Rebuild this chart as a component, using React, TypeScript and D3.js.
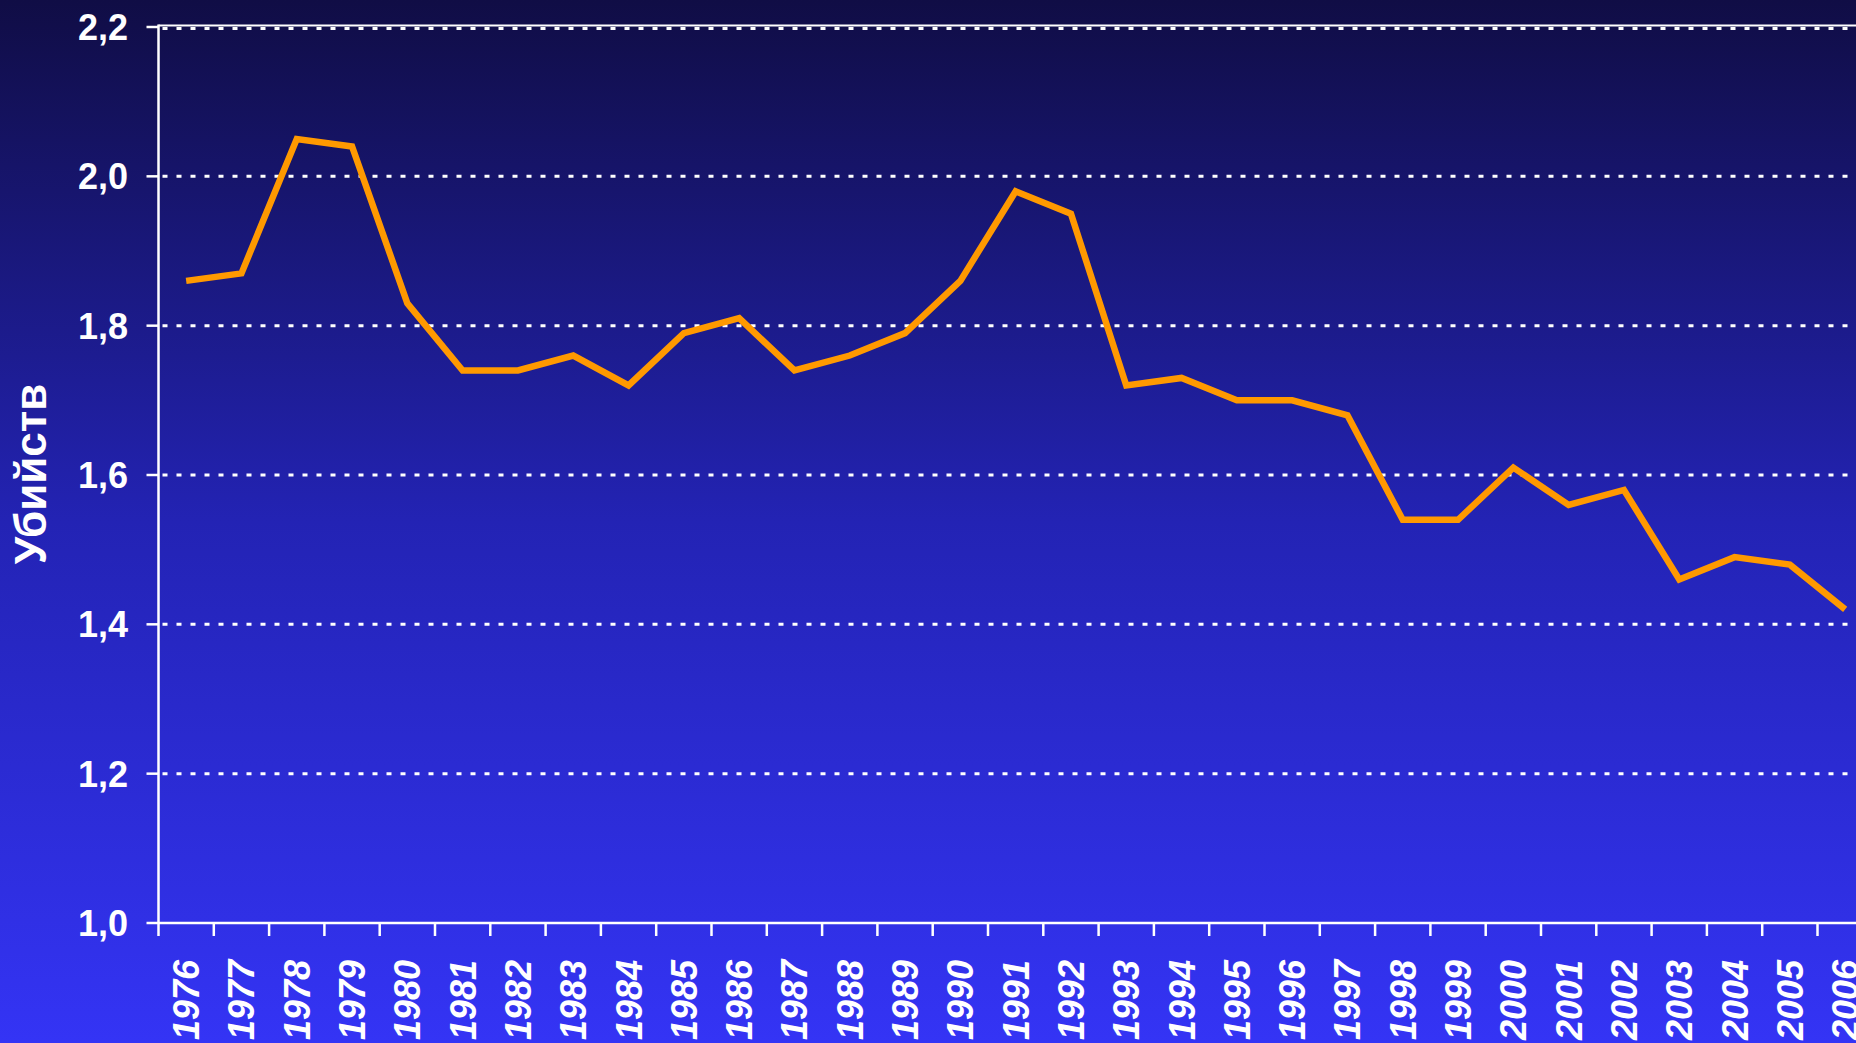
import React from "react";
import * as d3 from "d3";

const years = ["1976","1977","1978","1979","1980","1981","1982","1983","1984","1985","1986","1987","1988","1989","1990","1991","1992","1993","1994","1995","1996","1997","1998","1999","2000","2001","2002","2003","2004","2005","2006"];
const values = [1.86,1.87,2.05,2.04,1.83,1.74,1.74,1.76,1.72,1.79,1.81,1.74,1.76,1.79,1.86,1.98,1.95,1.72,1.73,1.70,1.70,1.68,1.54,1.54,1.61,1.56,1.58,1.46,1.49,1.48,1.42];
const yTicks = [1.0,1.2,1.4,1.6,1.8,2.0,2.2];
const yTitle = "Убийств";

const W = 1856;
const H = 1043;

export default function App() {
  const left = 158.5;
  const bw = 55.3;
  const x = d3.scaleBand<string>().domain(years).range([left, left + bw * years.length]).padding(0);
  const y = d3.scaleLinear().domain([1.0, 2.2]).range([923, 27]);
  const line = d3.line<number>().x((_, i) => (x(years[i]) as number) + x.bandwidth() / 2).y((d) => y(d));
  const fmt = (v: number) => v.toFixed(1).replace(".", ",");
  const font = "Arial, 'Liberation Sans', Helvetica, sans-serif";
  const bottom = y(1.0);
  const top = y(2.2);

  return (
    <svg width={W} height={H} style={{ position: "fixed", left: 0, top: 0, display: "block" }}>
      <defs>
        <linearGradient id="bg" x1="0" y1="0" x2="0" y2="1">
          <stop offset="0" stopColor="#100d45" />
          <stop offset="0.5" stopColor="#2323b4" />
          <stop offset="1" stopColor="#3434f5" />
        </linearGradient>
      </defs>
      <rect x={0} y={0} width={W} height={H} fill="url(#bg)" />
      <line x1={left} x2={W} y1={top - 1.5} y2={top - 1.5} stroke="#fff" strokeWidth={2} />
      {yTicks.filter((t) => t > 1.0).map((t) => (
        <line key={"g" + t} x1={left + 4} x2={W} y1={y(t) + (t === 2.2 ? 1.5 : 0)} y2={y(t) + (t === 2.2 ? 1.5 : 0)}
          stroke="#fff" strokeWidth={3} strokeDasharray="5 9" />
      ))}
      <line x1={left} x2={left} y1={top - 2.5} y2={bottom} stroke="#fff" strokeWidth={2.5} />
      {yTicks.map((t) => (
        <g key={"y" + t}>
          <line x1={left - 12} x2={left} y1={y(t)} y2={y(t)} stroke="#fff" strokeWidth={2.5} />
          <text x={128} y={y(t)} dy="0.36em" textAnchor="end" fill="#fff" fontFamily={font} fontWeight="bold" fontSize={36}>
            {fmt(t)}
          </text>
        </g>
      ))}
      <line x1={left} x2={W} y1={bottom} y2={bottom} stroke="#fff" strokeWidth={2.5} />
      {years.map((yr) => (
        <line key={"xt" + yr} x1={(x(yr) as number)} x2={(x(yr) as number)} y1={bottom} y2={bottom + 13} stroke="#fff" strokeWidth={2.5} />
      ))}
      <line x1={left + bw * years.length} x2={left + bw * years.length} y1={bottom} y2={bottom + 13} stroke="#fff" strokeWidth={2.5} />
      {years.map((yr) => {
        const cx = (x(yr) as number) + x.bandwidth() / 2;
        return (
          <text key={"xl" + yr} transform={`translate(${cx + 13},960) rotate(-90)`} textAnchor="end" fill="#fff"
            fontFamily={font} fontWeight="bold" fontStyle="italic" fontSize={36}>
            {yr}
          </text>
        );
      })}
      <text transform={`translate(46,474) rotate(-90)`} textAnchor="middle" fill="#fff" fontFamily={font} fontWeight="bold" fontSize={44}>
        {yTitle}
      </text>
      <path d={line(values) as string} fill="none" stroke="#ff9900" strokeWidth={6.5} strokeLinejoin="miter" />
    </svg>
  );
}
